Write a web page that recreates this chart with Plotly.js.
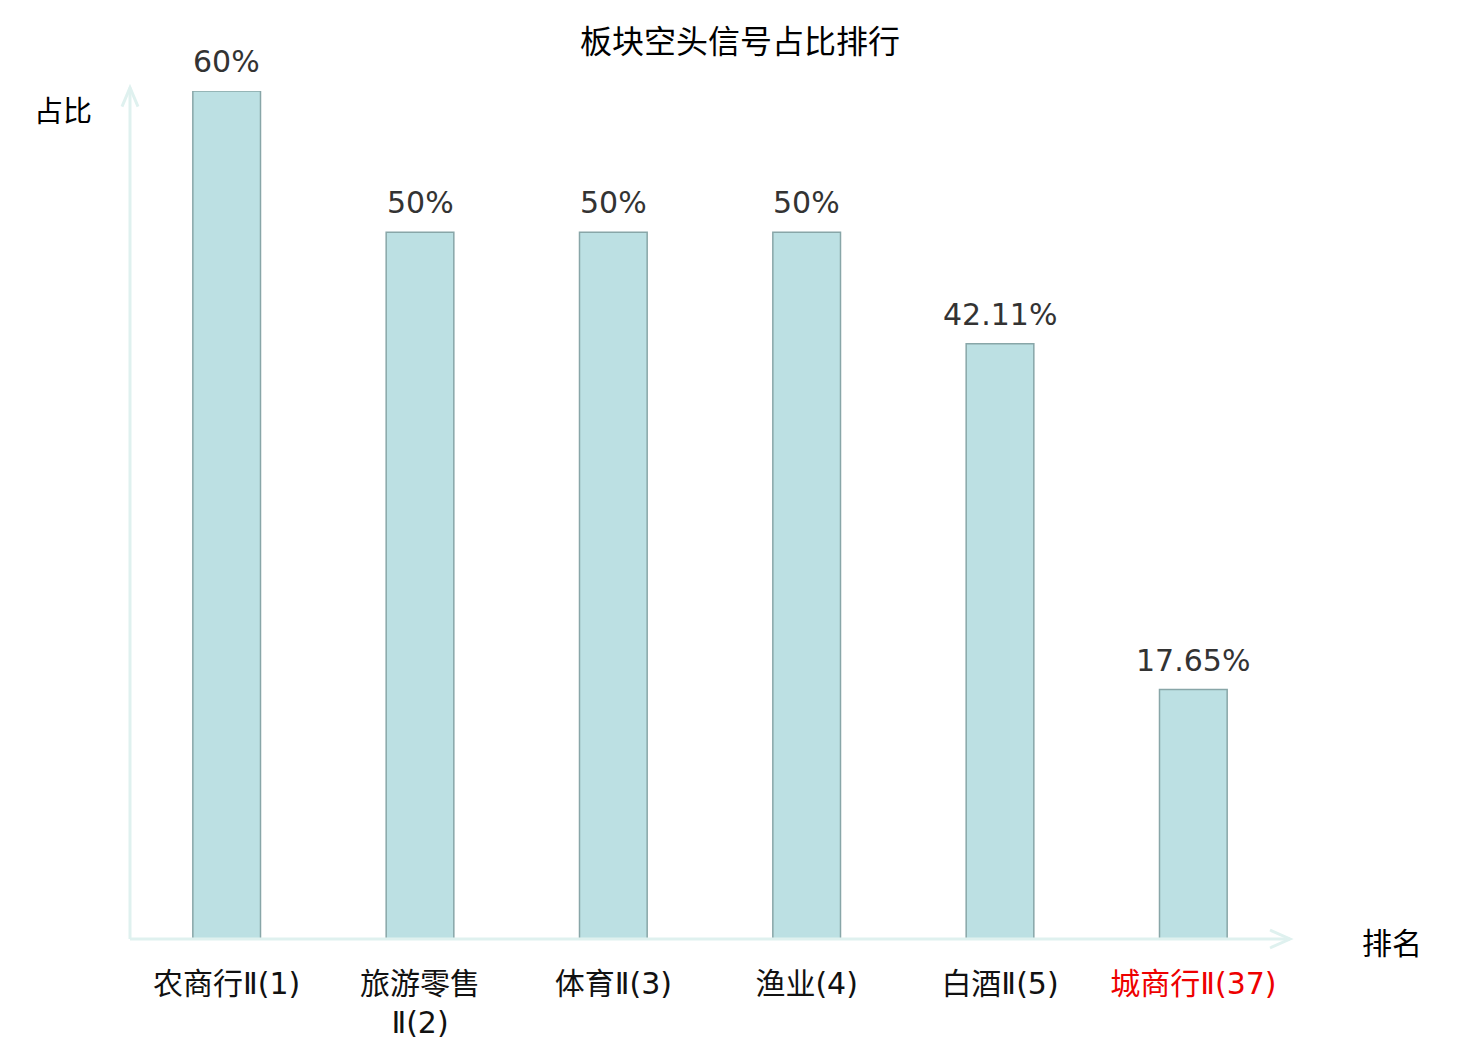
<!DOCTYPE html>
<html>
<head>
<meta charset="utf-8">
<script src="https://cdn.plot.ly/plotly-3.0.1.min.js"></script>
<style>html,body{margin:0;padding:0;background:#fff;}#chart{width:1480px;height:1040px;}</style>
</head>
<body>
<div id="chart"></div>
<script>
const categories = ["农商行Ⅱ(1)", "旅游零售<br>Ⅱ(2)", "体育Ⅱ(3)", "渔业(4)", "白酒Ⅱ(5)", "城商行Ⅱ(37)"];
const values = [60, 50, 50, 50, 42.11, 17.65];
const valueLabels = ["60%", "50%", "50%", "50%", "42.11%", "17.65%"];
const tickColors = ["#111111", "#111111", "#111111", "#111111", "#111111", "#ee0000"];

const FONT = "DejaVu Sans, Noto Sans CJK SC, sans-serif";
const AXIS = "#dff1ef";

const xs = categories.map((c, i) => i);
const tickText = categories.map((c, i) => `<span style="color:${tickColors[i]}">${c}</span>`);

const trace = {
  type: "bar",
  x: xs,
  y: values,
  width: 0.35,
  marker: { color: "#bce0e3", line: { color: "#88a6a8", width: 1.5 } },
  hoverinfo: "none"
};

const annotations = values.map((v, i) => ({
  x: i, y: v, xref: "x", yref: "y",
  text: valueLabels[i], showarrow: false,
  yanchor: "bottom", yshift: 10,
  font: { family: FONT, size: 30, color: "#333333" }
}));
annotations.push({
  xref: "paper", yref: "paper", x: -0.058, y: 0.979, xanchor: "center", yanchor: "middle",
  text: "占比", showarrow: false, font: { family: "Noto Sans CJK SC, sans-serif", size: 29, color: "#000" }
});
annotations.push({
  xref: "paper", yref: "paper", x: 1.088, y: -0.002, xanchor: "center", yanchor: "middle",
  text: "排名", showarrow: false, font: { family: "Noto Sans CJK SC, sans-serif", size: 30, color: "#000" }
});

const shapes = [
  { type: "line", xref: "paper", yref: "paper", x0: 0, x1: 1, y0: 0, y1: 0, line: { color: AXIS, width: 3 } },
  { type: "line", xref: "paper", yref: "paper", x0: 0, x1: 0, y0: 0, y1: 1.004, line: { color: AXIS, width: 3 } },
  { type: "path", xref: "paper", yref: "paper", xsizemode: "pixel", ysizemode: "pixel", xanchor: 1, yanchor: 0,
    path: "M -20 9 L 0 0 L -20 -9", line: { color: AXIS, width: 3 } },
  { type: "path", xref: "paper", yref: "paper", xsizemode: "pixel", ysizemode: "pixel", xanchor: 0, yanchor: 1.004,
    path: "M -8 -19 L 0 0 L 8 -19", line: { color: AXIS, width: 3 } }
];

const layout = {
  width: 1480, height: 1040,
  margin: { l: 130, r: 190, t: 91, b: 101 },
  paper_bgcolor: "#ffffff", plot_bgcolor: "#ffffff",
  font: { family: FONT },
  title: { text: "板块空头信号占比排行", x: 0.5, xanchor: "center", y: 0.96, yanchor: "middle",
    font: { family: "Noto Sans CJK SC, sans-serif", size: 32, color: "#000" } },
  xaxis: {
    range: [-0.5, 5.5], tickmode: "array", tickvals: xs, ticktext: tickText,
    showgrid: false, zeroline: false, showline: false, ticks: "outside", ticklen: 18, tickcolor: "rgba(0,0,0,0)",
    tickfont: { family: FONT, size: 30, color: "#111" }, fixedrange: true
  },
  yaxis: {
    range: [0, 60], showgrid: false, zeroline: false, showline: false, showticklabels: false, ticks: "", fixedrange: true
  },
  showlegend: false,
  bargap: 0,
  annotations: annotations,
  shapes: shapes
};

Plotly.newPlot("chart", [trace], layout, { displayModeBar: false, staticPlot: true });
</script>
</body>
</html>
